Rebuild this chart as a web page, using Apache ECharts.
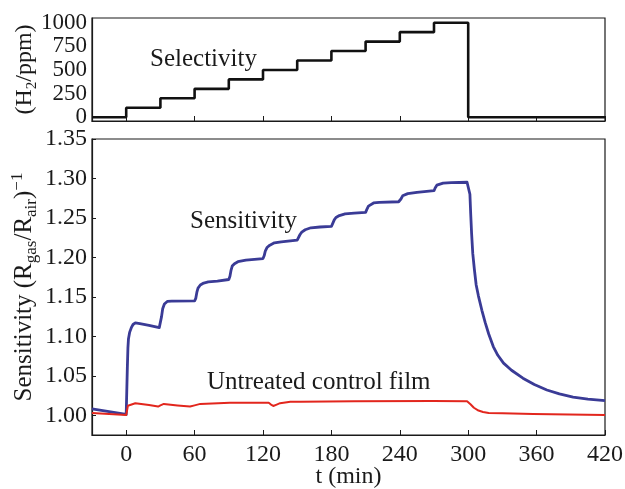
<!DOCTYPE html>
<html>
<head>
<meta charset="utf-8">
<script src="https://cdn.jsdelivr.net/npm/echarts@6/dist/echarts.min.js"></script>
<style>
  html, body { margin: 0; padding: 0; background: #fff; }
  #chart { width: 625px; height: 489px; }
</style>
</head>
<body>
<div id="chart"></div>
<script>
// H2 concentration steps (ppm), step changes at these times
var stepTimes = [-30, 0, 30, 60, 90, 120, 150, 180, 210, 240, 270, 300, 420];
var stepPpm = [0, 100, 200, 300, 400, 500, 600, 700, 800, 900, 1000, 0, 0];

// treated film response
var sensTimes = [-30, 0, 0.5, 1, 1.5, 2, 3, 4.5, 6, 8, 12, 20, 29,
  30, 31, 32, 33.5, 36, 40, 60,
  61, 62, 63, 65, 68, 72, 80, 90,
  91, 92, 93, 95, 98, 105, 120,
  121, 122, 123.5, 126, 130, 136, 150,
  151, 152.5, 154, 157, 162, 170, 180,
  181, 182.5, 184, 187, 192, 200, 210,
  211, 212.5, 214, 217, 222, 239,
  241, 242.5, 244, 247, 255, 270,
  271, 272.5, 274, 278, 285, 299,
  300.5, 301.5, 302.2, 303, 304, 305.4, 307, 309, 312, 315, 318, 322, 326, 331, 338, 348, 358, 369,
  380, 392, 405, 420];
var sensValues = [1.008, 1.001, 1.03, 1.06, 1.085, 1.097, 1.105, 1.111, 1.115, 1.117, 1.116, 1.114, 1.111,
  1.113, 1.125, 1.135, 1.141, 1.1442, 1.1445, 1.1448,
  1.148, 1.156, 1.161, 1.165, 1.1675, 1.169, 1.170, 1.172,
  1.176, 1.184, 1.189, 1.192, 1.1945, 1.1965, 1.1985,
  1.202, 1.208, 1.2125, 1.2155, 1.2185, 1.2198, 1.222,
  1.2245, 1.229, 1.232, 1.235, 1.2375, 1.2385, 1.2392,
  1.2425, 1.2475, 1.2505, 1.253, 1.2552, 1.256, 1.257,
  1.2605, 1.265, 1.2675, 1.269, 1.2698, 1.2705,
  1.274, 1.278, 1.2795, 1.2808, 1.2825, 1.2845,
  1.288, 1.2915, 1.293, 1.294, 1.2947, 1.2952,
  1.293, 1.28, 1.255, 1.23, 1.205, 1.185, 1.165, 1.151, 1.133, 1.117, 1.103, 1.087, 1.076, 1.066, 1.057,
  1.047, 1.039, 1.032, 1.027, 1.023, 1.0205, 1.0186];

// untreated control film
var ctrlTimes = [-30, 0, 1.5, 3, 8, 20, 28, 30, 33, 45, 56, 60, 65, 91, 125, 127, 129, 132, 135, 144,
  153, 200, 269, 299, 302, 305, 309, 313, 318, 330, 357, 420];
var ctrlValues = [1.003, 1.0004, 1.012, 1.0144, 1.0153, 1.013, 1.011, 1.0125, 1.0144, 1.0125, 1.011,
  1.0125, 1.0144, 1.016, 1.016, 1.0135, 1.0118, 1.0135, 1.0153, 1.017,
  1.017, 1.0178, 1.0182, 1.0178, 1.014, 1.0095, 1.006, 1.0042, 1.003, 1.0024, 1.0017, 1.0004];

var timeTicks = [0, 60, 120, 180, 240, 300, 360, 420];
var ppmTicks = [0, 250, 500, 750, 1000];
var sensTicks = [1.00, 1.05, 1.10, 1.15, 1.20, 1.25, 1.30, 1.35];

function pairs(xs, ys) {
  return xs.map(function (x, i) { return [x, ys[i]]; });
}

var FONT = '"Liberation Serif", "DejaVu Serif", serif';
var INK = '#1a1a1a';

var chart = echarts.init(document.getElementById('chart'));

var axisLine = { show: true, onZero: false, lineStyle: { color: INK, width: 1.2 } };

chart.setOption({
  animation: false,
  backgroundColor: '#fff',
  textStyle: { fontFamily: FONT },
  grid: [
    { left: 92, right: 20, top: 18, height: 103, show: true, borderColor: INK, borderWidth: 1.2, outerBoundsMode: 'none' },
    { left: 92, right: 20, top: 139, height: 296, show: true, borderColor: INK, borderWidth: 1.2, outerBoundsMode: 'none' }
  ],
  xAxis: [
    {
      type: 'value', gridIndex: 0, min: -30, max: 420,
      axisLine: axisLine,
      axisTick: { show: true, inside: true, length: 5, customValues: timeTicks, lineStyle: { color: INK } },
      axisLabel: { show: false },
      splitLine: { show: false }
    },
    {
      type: 'value', gridIndex: 1, min: -30, max: 420,
      name: 't (min)', nameLocation: 'middle', nameGap: 30, nameMoveOverlap: false,
      nameTextStyle: { fontFamily: FONT, fontSize: 24, color: INK },
      axisLine: axisLine,
      axisTick: { show: true, inside: true, length: 5, customValues: timeTicks, lineStyle: { color: INK } },
      axisLabel: {
        customValues: timeTicks, interval: 0, margin: 8, fontFamily: FONT, fontSize: 24, color: INK,
        showMinLabel: true, showMaxLabel: true, hideOverlap: false
      },
      splitLine: { show: false }
    }
  ],
  yAxis: [
    {
      type: 'value', gridIndex: 0, min: -40, max: 1050,
      name: '{m|(H}{s|2}{m|/ppm)}', nameLocation: 'middle', nameGap: 52, nameRotate: 90,
      nameMoveOverlap: false,
      nameTextStyle: {
        color: INK,
        rich: {
          m: { fontFamily: FONT, fontSize: 24, lineHeight: 30, color: INK },
          s: { fontFamily: FONT, fontSize: 15, lineHeight: 15, verticalAlign: 'bottom', color: INK }
        }
      },
      axisLine: axisLine,
      axisTick: { show: false },
      axisLabel: {
        customValues: ppmTicks, interval: 0, margin: 5, fontFamily: FONT, fontSize: 23, color: INK,
        showMinLabel: true, showMaxLabel: true, hideOverlap: false,
        formatter: function (v) { return String(v); }
      },
      splitLine: { show: false }
    },
    {
      type: 'value', gridIndex: 1, min: 0.975, max: 1.35,
      name: '{m|Sensitivity (R}{s|gas}{m|/R}{s|air}{m|)}{p|−1}',
      nameLocation: 'middle', nameGap: 52, nameRotate: 90, nameMoveOverlap: false,
      nameTextStyle: {
        color: INK,
        rich: {
          m: { fontFamily: FONT, fontSize: 25, lineHeight: 31, color: INK },
          s: { fontFamily: FONT, fontSize: 17, lineHeight: 17, verticalAlign: 'bottom', color: INK },
          p: { fontFamily: FONT, fontSize: 17, lineHeight: 17, verticalAlign: 'top', color: INK }
        }
      },
      axisLine: axisLine,
      axisTick: { show: true, inside: true, length: 4, customValues: sensTicks, lineStyle: { color: INK } },
      axisLabel: {
        customValues: sensTicks, interval: 0, margin: 5, fontFamily: FONT, fontSize: 24, color: INK,
        showMinLabel: true, showMaxLabel: true, hideOverlap: false,
        formatter: function (v) { return v.toFixed(2); }
      },
      splitLine: { show: false }
    }
  ],
  series: [
    {
      name: 'Selectivity', type: 'line', xAxisIndex: 0, yAxisIndex: 0,
      step: 'end', showSymbol: false,
      lineStyle: { color: '#111', width: 2.6 },
      data: pairs(stepTimes, stepPpm)
    },
    {
      name: 'Sensitivity', type: 'line', xAxisIndex: 1, yAxisIndex: 1,
      showSymbol: false,
      lineStyle: { color: '#3a3b96', width: 2.8, join: 'round' },
      data: pairs(sensTimes, sensValues)
    },
    {
      name: 'Untreated control film', type: 'line', xAxisIndex: 1, yAxisIndex: 1,
      showSymbol: false,
      lineStyle: { color: '#e2261d', width: 2, join: 'round' },
      data: pairs(ctrlTimes, ctrlValues)
    }
  ],
  graphic: [
    { type: 'text', x: 150, y: 59, style: { text: 'Selectivity', font: '25px ' + FONT, fill: INK, textVerticalAlign: 'middle' } },
    { type: 'text', x: 190, y: 221, style: { text: 'Sensitivity', font: '25px ' + FONT, fill: INK, textVerticalAlign: 'middle' } },
    { type: 'text', x: 207, y: 382, style: { text: 'Untreated control film', font: '25px ' + FONT, fill: INK, textVerticalAlign: 'middle' } }
  ]
});
</script>
</body>
</html>
